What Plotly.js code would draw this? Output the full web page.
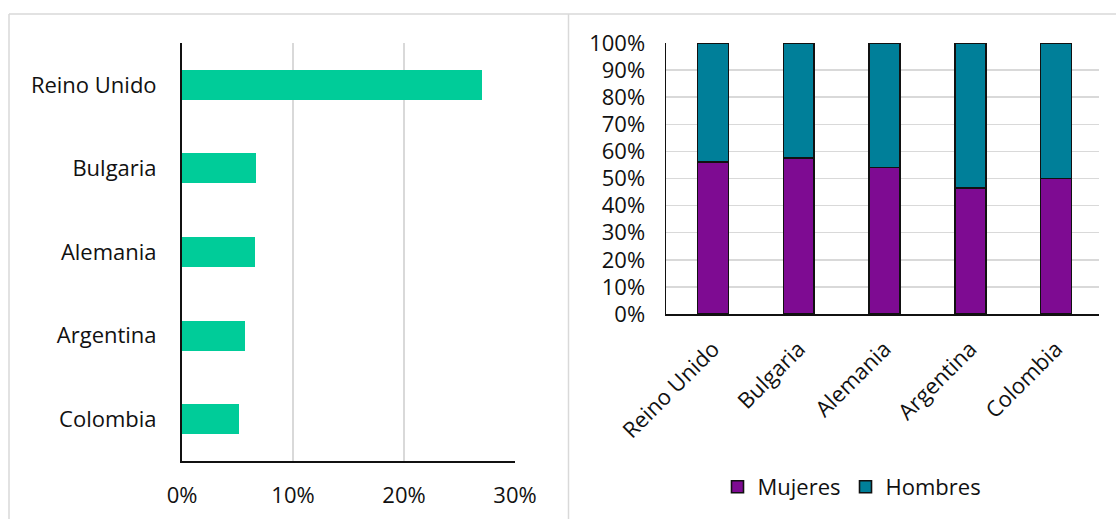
<!DOCTYPE html>
<html>
<head>
<meta charset="utf-8">
<script src="https://cdn.plot.ly/plotly-3.0.1.min.js"></script>
<style>
html,body{margin:0;padding:0;background:#fff;}
#chart{width:1116px;height:519px;}
</style>
</head>
<body>
<div id="chart"></div>
<script>
// Data
const countries = ["Reino Unido", "Bulgaria", "Alemania", "Argentina", "Colombia"];
const shareTotal = [0.270, 0.067, 0.066, 0.057, 0.051];
const mujeres = [0.56, 0.575, 0.54, 0.465, 0.50];
const hombres = [0.44, 0.425, 0.46, 0.535, 0.50];
const xTickVals = [0, 0.1, 0.2, 0.3];
const xTickText = ["0%", "10%", "20%", "30%"];
const yTickVals = [0, 0.1, 0.2, 0.3, 0.4, 0.5, 0.6, 0.7, 0.8, 0.9, 1.0];
const yTickText = ["0%", "10%", "20%", "30%", "40%", "50%", "60%", "70%", "80%", "90%", "100%"];

const W = 1116, H = 519;
const px = v => v / W;
const py = v => 1 - v / H;
const FONT = "'Open Sans', 'Noto Sans', sans-serif";
const FS = 22;

const traces = [
  {
    type: "bar", orientation: "h",
    y: countries, x: shareTotal,
    xaxis: "x", yaxis: "y",
    marker: {color: "#00CC99"},
    showlegend: false, hoverinfo: "skip"
  },
  {
    type: "bar", name: "Mujeres",
    x: countries, y: mujeres,
    xaxis: "x2", yaxis: "y2",
    marker: {color: "#7E0B92", line: {color: "#111", width: 1.6}}
  },
  {
    type: "bar", name: "Hombres",
    x: countries, y: hombres,
    xaxis: "x2", yaxis: "y2",
    marker: {color: "#007F99", line: {color: "#111", width: 1.6}}
  }
];

const layout = {
  width: W, height: H,
  margin: {l: 0, r: 0, t: 0, b: 0},
  paper_bgcolor: "#fff", plot_bgcolor: "rgba(0,0,0,0)",
  font: {family: FONT, size: FS, color: "#111"},
  barmode: "stack",
  bargap: 0.64,
  showlegend: true,
  legend: {
    orientation: "h", x: px(852), xanchor: "center", y: py(487), yanchor: "middle",
    font: {family: FONT, size: FS, color: "#111"},
    itemwidth: 30, tracegroupgap: 0, traceorder: "normal"
  },
  xaxis: {
    domain: [px(182), px(515)], anchor: "y",
    range: [0, 0.3], tickvals: xTickVals, ticktext: xTickText,
    showgrid: true, gridcolor: "#D9D9D9", gridwidth: 1.5,
    zeroline: false, showline: true, linecolor: "#111", linewidth: 2,
    ticks: "outside", ticklen: 14, tickcolor: "rgba(0,0,0,0)",
    fixedrange: true
  },
  yaxis: {
    domain: [py(461), py(43)], anchor: "x",
    type: "category", autorange: false, range: [4.5, -0.5],
    showgrid: false, zeroline: false, showline: true, linecolor: "#111", linewidth: 2,
    ticks: "outside", ticklen: 19, tickcolor: "rgba(0,0,0,0)",
    fixedrange: true
  },
  xaxis2: {
    domain: [px(666), px(1099)], anchor: "y2",
    type: "category", range: [-0.548, 4.5],
    showgrid: false, zeroline: false, showline: true, linecolor: "#111", linewidth: 1.5,
    tickangle: -45, ticks: "outside", ticklen: 12, tickcolor: "rgba(0,0,0,0)",
    fixedrange: true
  },
  yaxis2: {
    domain: [py(314), py(43)], anchor: "x2",
    range: [0, 1], tickvals: yTickVals, ticktext: yTickText,
    showgrid: true, gridcolor: "#D9D9D9", gridwidth: 1.5,
    zeroline: false, showline: true, linecolor: "#111", linewidth: 1.5,
    ticks: "outside", ticklen: 15, tickcolor: "rgba(0,0,0,0)",
    fixedrange: true
  },
  shapes: [
    {type: "line", xref: "paper", yref: "paper", x0: px(9), x1: 1, y0: py(14), y1: py(14), line: {color: "#D9D9D9", width: 1.5}},
    {type: "line", xref: "paper", yref: "paper", x0: px(9), x1: px(9), y0: py(14), y1: 0, line: {color: "#D9D9D9", width: 1.5}},
    {type: "line", xref: "paper", yref: "paper", x0: px(568.5), x1: px(568.5), y0: py(14), y1: 0, line: {color: "#D9D9D9", width: 1.5}}
  ]
};

Plotly.newPlot("chart", traces, layout, {displayModeBar: false, staticPlot: true});
</script>
</body>
</html>
